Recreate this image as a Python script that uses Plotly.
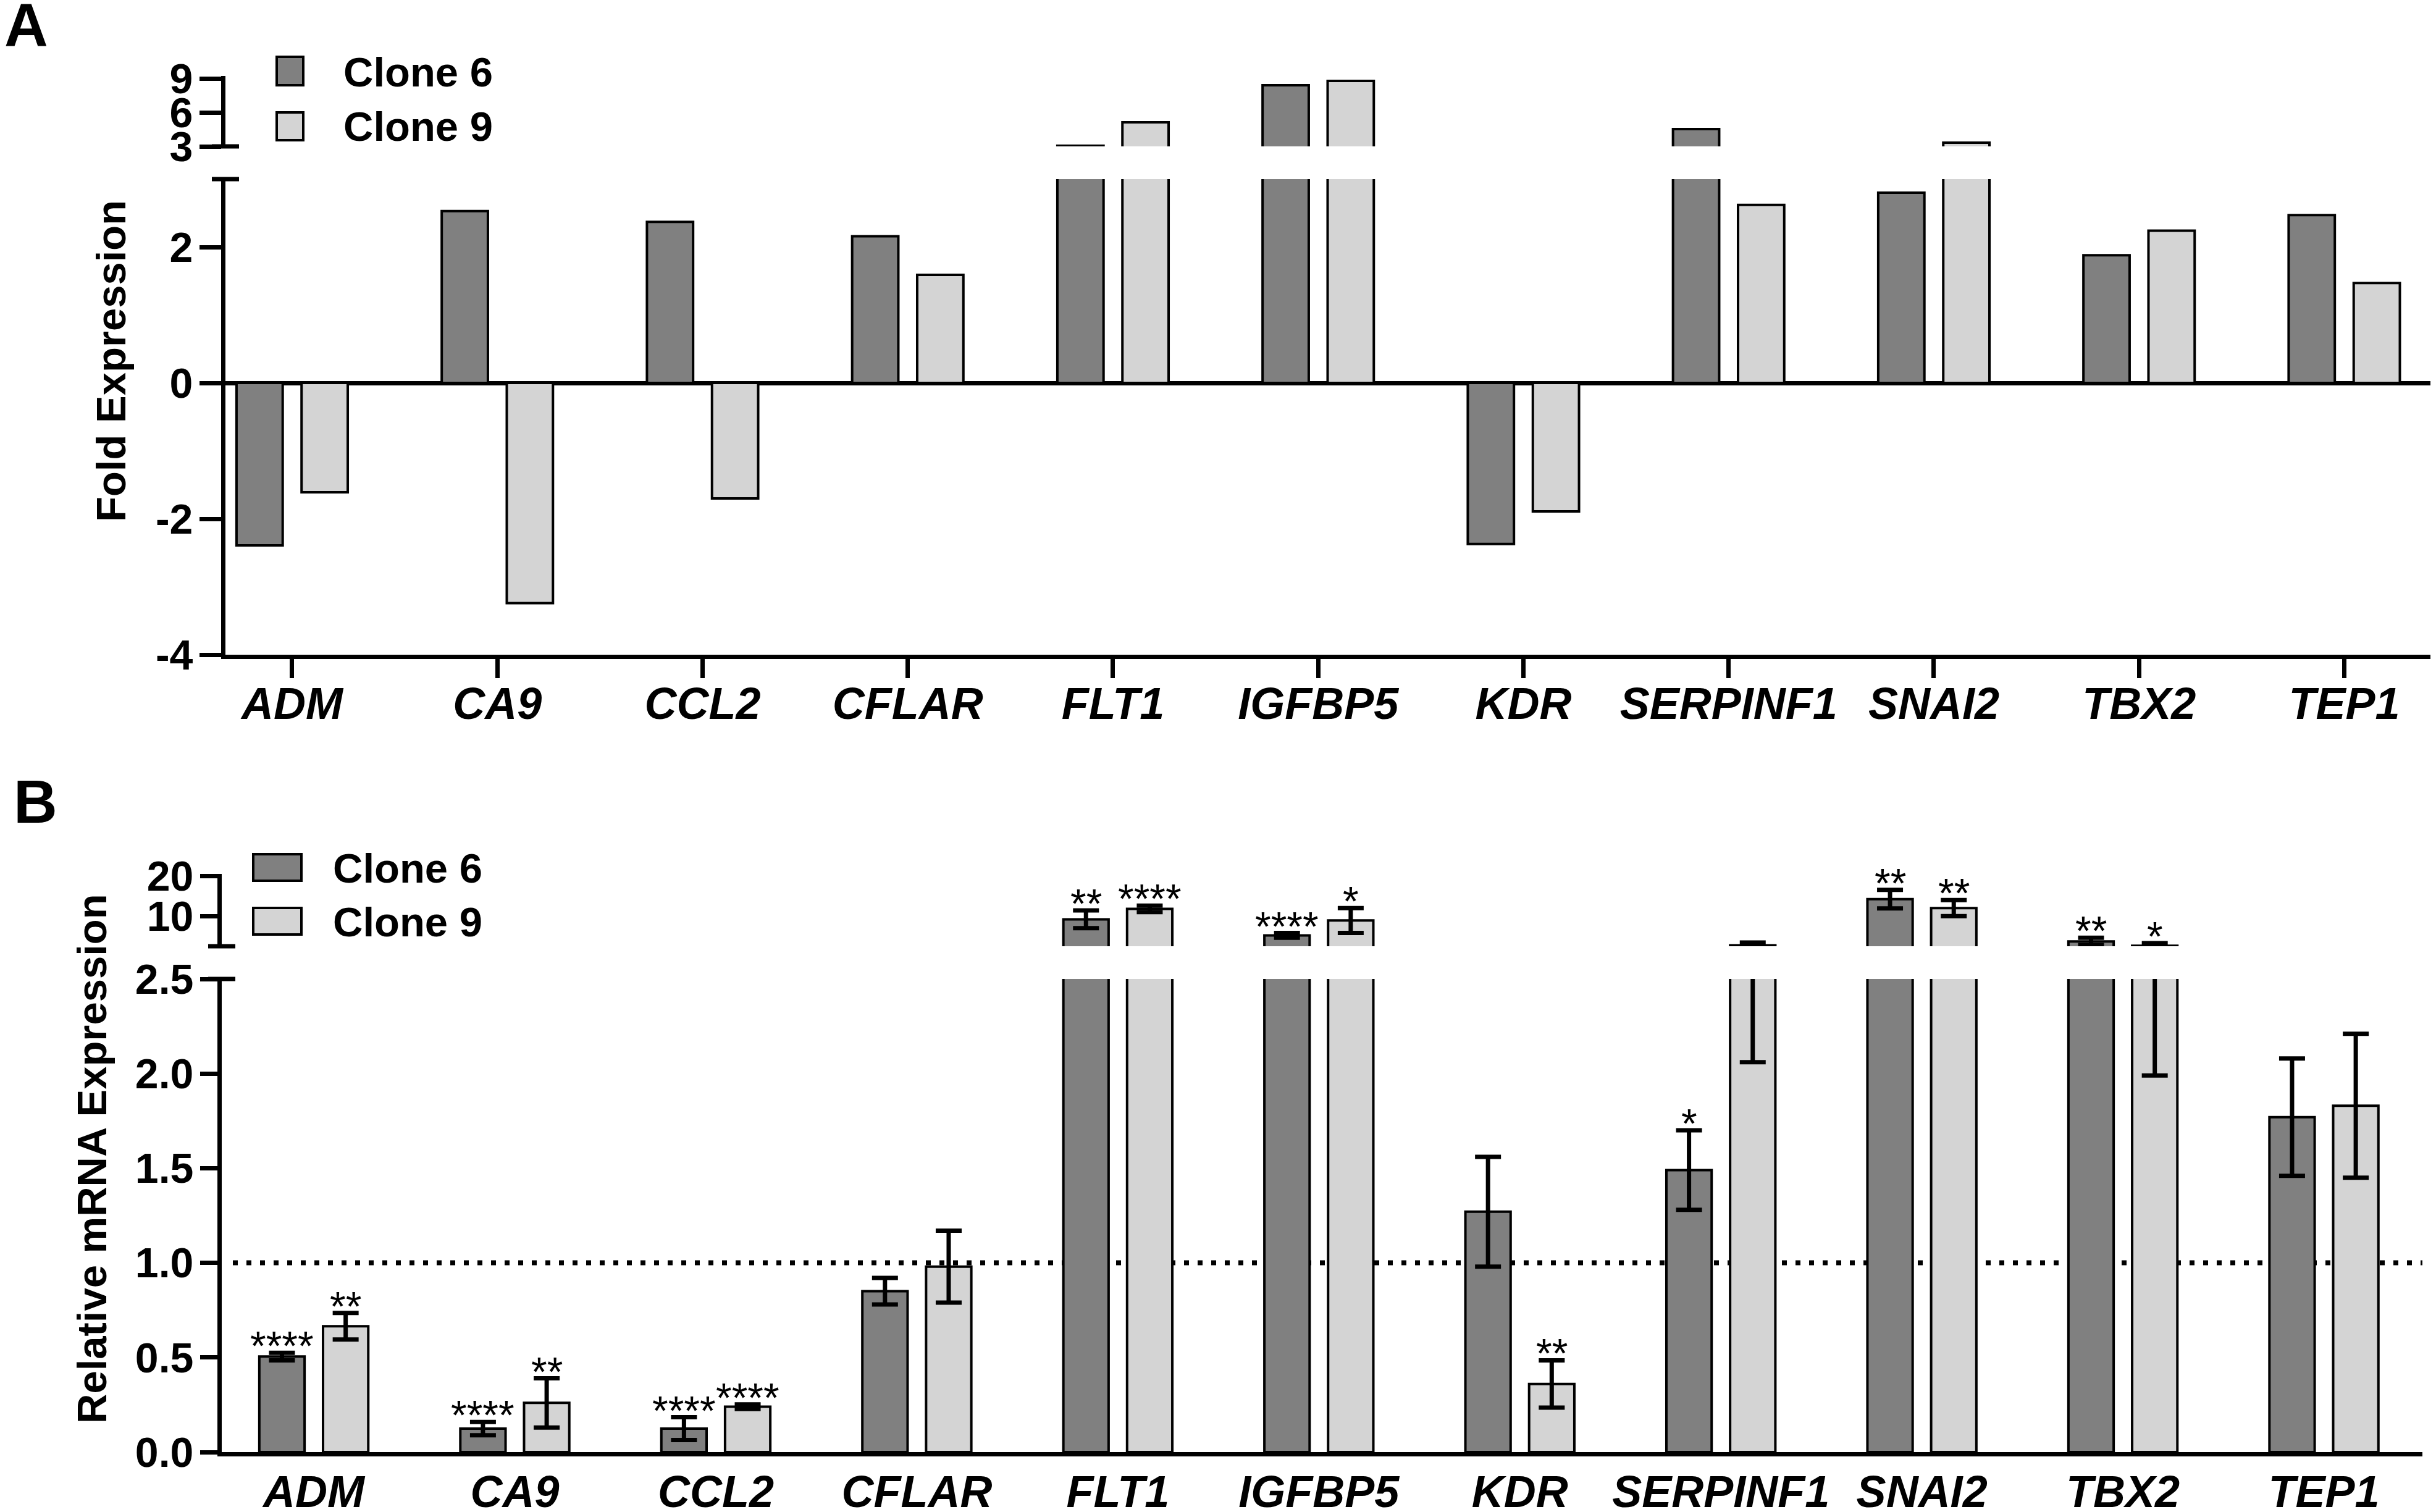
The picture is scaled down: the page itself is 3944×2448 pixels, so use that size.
import plotly.graph_objects as go

W, H = 3944, 2448

# ---------------- data ----------------
categories = ["ADM", "CA9", "CCL2", "CFLAR", "FLT1", "IGFBP5", "KDR",
              "SERPINF1", "SNAI2", "TBX2", "TEP1"]
series_names = ["Clone 6", "Clone 9"]

# Panel A: fold expression
fold_clone6 = [-2.39, 2.53, 2.37, 2.16, 3.06, 8.40, -2.37, 4.53, 2.80, 1.88, 2.47]
fold_clone9 = [-1.61, -3.24, -1.70, 1.59, 5.13, 8.78, -1.89, 2.62, 3.33, 2.24, 1.47]

# Panel B: relative mRNA expression (mean and error)
rel_clone6 = [0.505, 0.124, 0.124, 0.85, 9.2, 5.2, 1.27, 1.49, 14.2, 3.7, 1.77]
rel_clone6_err = [0.02, 0.035, 0.06, 0.07, 2.2, 0.6, 0.29, 0.21, 2.3, 0.9, 0.31]
rel_clone9 = [0.665, 0.26, 0.24, 0.98, 11.8, 8.9, 0.36, 2.74, 12.0, 2.63, 1.83]
rel_clone9_err = [0.07, 0.13, 0.012, 0.19, 0.8, 3.1, 0.125, 0.68, 2.0, 0.64, 0.38]
stars_clone6 = ["****", "****", "****", "", "**", "****", "", "*", "**", "**", ""]
stars_clone9 = ["**", "**", "****", "", "****", "*", "**", "", "**", "*", ""]

fold_ticks_low = [-4, -2, 0, 2]
fold_ticks_high = [3, 6, 9]
rel_ticks_low = [0.0, 0.5, 1.0, 1.5, 2.0, 2.5]
rel_ticks_high = [10, 20]
reference_level = 1.0

# ---------------- style ----------------
FONT = "Liberation Sans, Arial, sans-serif"
COLORS = ["#808080", "#d4d4d4"]
BARGAP = 0.366
BARGROUPGAP = 0.29
OFF = (1 - BARGAP) / 4  # centre offset of each bar inside a group
LW = 7

FOLD_LOW_TOP = 3.0
REL_LOW_TOP = rel_ticks_low[-1]


def fx(px):
    return px / W


def fy(py):
    return 1 - py / H


xs = list(range(len(categories)))

fig = go.Figure()

# Panel A bars (lower and upper segments of the broken axis)
for vals, name, col in zip([fold_clone6, fold_clone9], series_names, COLORS):
    upper_vals = [v if v > FOLD_LOW_TOP else None for v in vals]
    for yv, xa, ya in [(vals, "x", "y"), (upper_vals, "x2", "y2")]:
        fig.add_trace(go.Bar(x=xs, y=yv, name=name, xaxis=xa, yaxis=ya,
                             marker=dict(color=col, line=dict(color="black", width=4)),
                             showlegend=False))

# Panel B bars with error bars
for vals, errs, name, col in zip([rel_clone6, rel_clone9], [rel_clone6_err, rel_clone9_err],
                                 series_names, COLORS):
    keep = [v + e > REL_LOW_TOP for v, e in zip(vals, errs)]
    upper_vals = [v if k else None for v, k in zip(vals, keep)]
    upper_errs = [e if k else 0 for e, k in zip(errs, keep)]
    for yv, ev, xa, ya in [(vals, errs, "x3", "y3"), (upper_vals, upper_errs, "x4", "y4")]:
        fig.add_trace(go.Bar(x=xs, y=yv, name=name, xaxis=xa, yaxis=ya,
                             marker=dict(color=col, line=dict(color="black", width=4)),
                             error_y=dict(type="data", array=ev, color="black",
                                          thickness=7, width=21),
                             showlegend=False))

annotations = []
# Significance stars, placed just above each error bar through the axis scales
for vals, errs, stars, sgn in zip([rel_clone6, rel_clone9], [rel_clone6_err, rel_clone9_err],
                                  [stars_clone6, stars_clone9], [-1, 1]):
    for i, (v, e, s) in enumerate(zip(vals, errs, stars)):
        if not s:
            continue
        top = v + e
        xr, yr = ("x3", "y3") if top <= REL_LOW_TOP else ("x4", "y4")
        annotations.append(dict(text=s, x=i + sgn * OFF, y=top, xref=xr, yref=yr,
                                xanchor="center", yanchor="middle", yshift=11,
                                showarrow=False,
                                font=dict(family=FONT, size=66, color="black")))

# ---------------- axes ----------------
xdomA = [fx(365), fx(3935)]
xdomB = [fx(359), fx(3922)]
xrangeA = [-0.325, 10.42]
xrangeB = [-0.458, 10.49]

ytick_font = dict(family=FONT, size=68, color="black", weight="bold")
xtick_font = dict(family=FONT, size=72, color="black", weight="bold", style="italic")

common_y = dict(showline=True, linecolor="black", linewidth=LW, ticks="outside",
                tickwidth=LW, tickcolor="black", showgrid=False, ticklabelstandoff=-3,
                tickfont=ytick_font, fixedrange=True, automargin=False)

fig.update_layout(
    xaxis=dict(domain=xdomA, anchor="y", range=xrangeA, tickmode="array", tickvals=xs,
               ticktext=categories, showline=True, linecolor="black", linewidth=LW,
               ticks="outside", ticklen=31, tickwidth=LW, tickcolor="black",
               showgrid=False, zeroline=False, tickfont=xtick_font, ticklabelstandoff=-20,
               automargin=False),
    yaxis=dict(domain=[fy(1060), fy(290)], anchor="x", range=[-4, 3], tickmode="array",
               tickvals=fold_ticks_low, ticktext=[str(t) for t in fold_ticks_low],
               ticklen=35, zeroline=True, zerolinecolor="black", zerolinewidth=LW,
               **common_y),
    xaxis2=dict(domain=xdomA, anchor="y2", range=xrangeA, visible=False, automargin=False),
    yaxis2=dict(domain=[fy(237), fy(123)], anchor="x2", range=[3, 9.22], tickmode="array",
                tickvals=fold_ticks_high, ticktext=[str(t) for t in fold_ticks_high],
                ticklen=35, zeroline=False, **common_y),
    xaxis3=dict(domain=xdomB, anchor="y3", range=xrangeB, tickmode="array", tickvals=xs,
                ticktext=categories, showline=True, linecolor="black", linewidth=LW,
                ticks="", showgrid=False, zeroline=False, tickfont=xtick_font,
                ticklabelstandoff=-4, automargin=False),
    yaxis3=dict(domain=[fy(2351), fy(1585)], anchor="x3", range=[0, 2.5], tickmode="array",
                tickvals=rel_ticks_low, ticktext=[f"{t:.1f}" for t in rel_ticks_low],
                ticklen=28, zeroline=False, **common_y),
    xaxis4=dict(domain=xdomB, anchor="y4", range=xrangeB, visible=False, automargin=False),
    yaxis4=dict(domain=[fy(1532), fy(1415)], anchor="x4", range=[2.5, 20.47], tickmode="array",
                tickvals=rel_ticks_high, ticktext=[str(t) for t in rel_ticks_high],
                ticklen=28, zeroline=False, **common_y),
    barmode="group", bargap=BARGAP, bargroupgap=BARGROUPGAP,
    width=W, height=H, autosize=False,
    margin=dict(l=0, r=0, t=0, b=0, pad=0),
    paper_bgcolor="white", plot_bgcolor="white",
    showlegend=False,
    font=dict(family=FONT, color="black"),
)

shapes = []
# reference line at 1.0 (panel B)
shapes.append(dict(type="line", xref="paper", yref="y3", x0=fx(377), x1=xdomB[1],
                   y0=reference_level, y1=reference_level, layer="below",
                   line=dict(color="black", width=8, dash="8px,14px")))
# axis-break marks
for yb, xc in [(237, 365), (290, 365), (1532, 359), (1585, 359)]:
    shapes.append(dict(type="line", xref="paper", yref="paper", x0=fx(xc - 22), x1=fx(xc + 22),
                       y0=fy(yb), y1=fy(yb), line=dict(color="black", width=LW)))

# legends (drawn manually so the swatches match the reference size)
legends = [
    # (swatch x0, x1, [(y0,y1) per series], text x, [text y per series])
    (448, 491, [(92, 138), (182, 227)], 554, [116, 204]),
    (410, 488, [(1383, 1426), (1470, 1513)], 537, [1405, 1492]),
]
for sx0, sx1, sy, tx, ty in legends:
    for k in range(2):
        shapes.append(dict(type="rect", xref="paper", yref="paper", x0=fx(sx0), x1=fx(sx1),
                           y0=fy(sy[k][1]), y1=fy(sy[k][0]), fillcolor=COLORS[k],
                           line=dict(color="black", width=4)))
        annotations.append(dict(text=series_names[k], xref="paper", yref="paper", x=fx(tx),
                                y=fy(ty[k]), xanchor="left", yanchor="middle", showarrow=False,
                                font=dict(family=FONT, size=67, color="black", weight="bold")))

# panel letters
for txt, x, y in [("A", 42, 40), ("B", 57, 1298)]:
    annotations.append(dict(text=txt, xref="paper", yref="paper", x=fx(x), y=fy(y),
                            xanchor="center", yanchor="middle", showarrow=False,
                            font=dict(family=FONT, size=98, color="black", weight="bold")))
# axis titles
for txt, x, y in [("Fold Expression", 179, 585), ("Relative mRNA Expression", 148, 1876)]:
    annotations.append(dict(text=txt, xref="paper", yref="paper", x=fx(x), y=fy(y),
                            xanchor="center", yanchor="middle", textangle=-90, showarrow=False,
                            font=dict(family=FONT, size=67, color="black", weight="bold")))

fig.update_layout(shapes=shapes, annotations=annotations)

# remove the default page margin so the figure fills the window exactly
fig.write_html("out.html", config={"displayModeBar": False},
               post_script="document.body.style.margin='0';document.body.style.overflow='hidden';")
